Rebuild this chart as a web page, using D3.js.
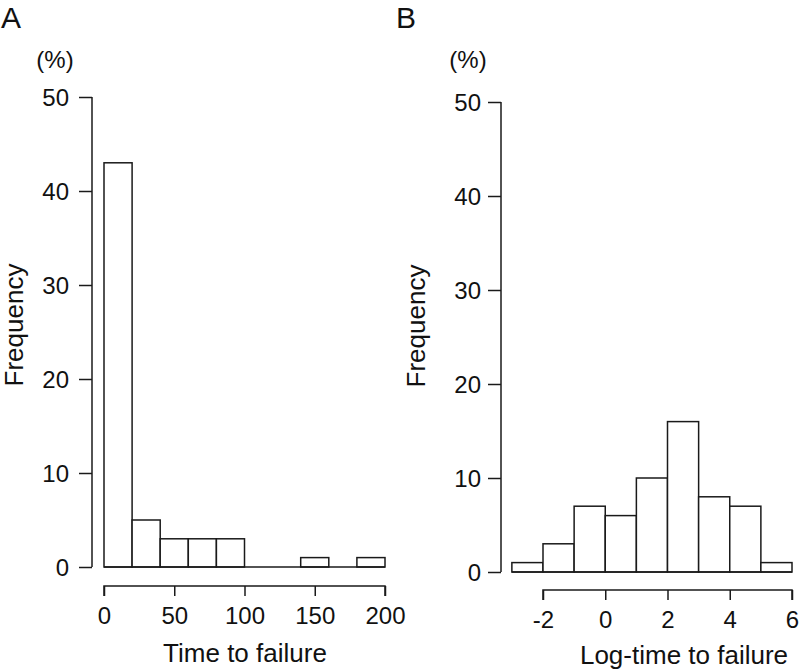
<!DOCTYPE html>
<html><head><meta charset="utf-8">
<script src="https://cdn.jsdelivr.net/npm/d3@7"></script>
<style>body{margin:0;background:#fff}svg{display:block}text{font-family:"Liberation Sans",Arial,sans-serif;fill:#111}</style>
</head><body>
<script>
// Panel A: time to failure, bins of width 20
const binsA = [0,20,40,60,80,100,120,140,160,180];
const freqA = [43,5,3,3,3,0,0,1,0,1];
const xTicksA = [0,50,100,150,200];
// Panel B: log-time to failure, bins of width 1
const binsB = [-3,-2,-1,0,1,2,3,4,5];
const freqB = [1,3,7,6,10,16,8,7,1];
const xTicksB = [-2,0,2,4,6];
const yTicks = [0,10,20,30,40,50];

const W=800,H=672;
const svg=d3.select("body").append("svg").attr("width",W).attr("height",H);
const stroke="#1a1a1a";
const FF="Liberation Sans, Arial, sans-serif";

function panel(o){
  const g=svg.append("g");
  const x=d3.scaleLinear().domain(o.xdom).range(o.xr);
  const y=d3.scaleLinear().domain([0,50]).range([o.y0,o.y0-470]);
  g.selectAll("rect").data(o.bins.map((b,i)=>({b,v:o.freq[i]})).filter(d=>d.v>0)).enter().append("rect")
    .attr("x",d=>x(d.b)).attr("width",d=>x(d.b+o.bw)-x(d.b))
    .attr("y",d=>y(d.v)).attr("height",d=>y(0)-y(d.v))
    .attr("fill","#fff").attr("stroke",stroke).attr("stroke-width",1.5);
  g.append("line").attr("x1",x(o.bins[0])).attr("x2",x(o.bins[o.bins.length-1]+o.bw))
    .attr("y1",y(0)).attr("y2",y(0)).attr("stroke",stroke).attr("stroke-width",1.5);
  // y axis
  const ya=g.append("g").attr("transform",`translate(${o.yax},0)`)
    .call(d3.axisLeft(y).tickValues(yTicks).tickSize(13).tickPadding(o.ypad).tickFormat(d3.format("d")));
  ya.select(".domain").attr("d",`M-0,${y(50)}V${y(0)}`).attr("stroke",stroke).attr("stroke-width",1.5);
  ya.selectAll(".tick line").attr("stroke",stroke).attr("stroke-width",1.5);
  ya.selectAll(".tick text").attr("font-size",24).attr("fill","#111").attr("dy","0.35em").style("font-family",FF);
  // x axis
  const xa=g.append("g").attr("transform",`translate(0,${o.xay})`)
    .call(d3.axisBottom(x).tickValues(o.xticks).tickSize(10).tickFormat(d=>d<0?"-"+Math.abs(d):d));
  xa.select(".domain").attr("d",`M${x(o.xticks[0])},10V0H${x(o.xticks[o.xticks.length-1])}V10`).attr("stroke",stroke).attr("stroke-width",1.5).attr("fill","none");
  xa.selectAll(".tick line").attr("stroke",stroke).attr("stroke-width",1.5);
  xa.selectAll(".tick text").attr("font-size",24).attr("fill","#111").attr("y",38).attr("dy",0).style("font-family",FF);
  // labels
  g.append("text").attr("x",o.titleX).attr("y",o.titleY).attr("text-anchor","middle").attr("font-size",26).text(o.title);
  g.append("text").attr("transform",`translate(${o.freqX},${o.freqY}) rotate(-90)`).attr("text-anchor","middle").attr("font-size",26).text("Frequency");
  g.append("text").attr("x",o.pctX).attr("y",68).attr("text-anchor","middle").attr("font-size",24).text("(%)");
  g.append("text").attr("x",o.letX).attr("y",28).attr("font-size",30).text(o.letter);
}

panel({bins:binsA,freq:freqA,bw:20,xdom:[0,200],xr:[104,385],y0:567,yax:92,xay:586,xticks:xTicksA,ypad:10,
  title:"Time to failure",titleX:245,titleY:662,freqX:23,freqY:325,pctX:55,letX:1,letter:"A"});
panel({bins:binsB,freq:freqB,bw:1,xdom:[-2,6],xr:[543,792],y0:572,yax:501,xay:590,xticks:xTicksB,ypad:7,
  title:"Log-time to failure",titleX:684,titleY:664,freqX:425,freqY:326,pctX:468,letX:396,letter:"B"});
</script>
</body></html>
